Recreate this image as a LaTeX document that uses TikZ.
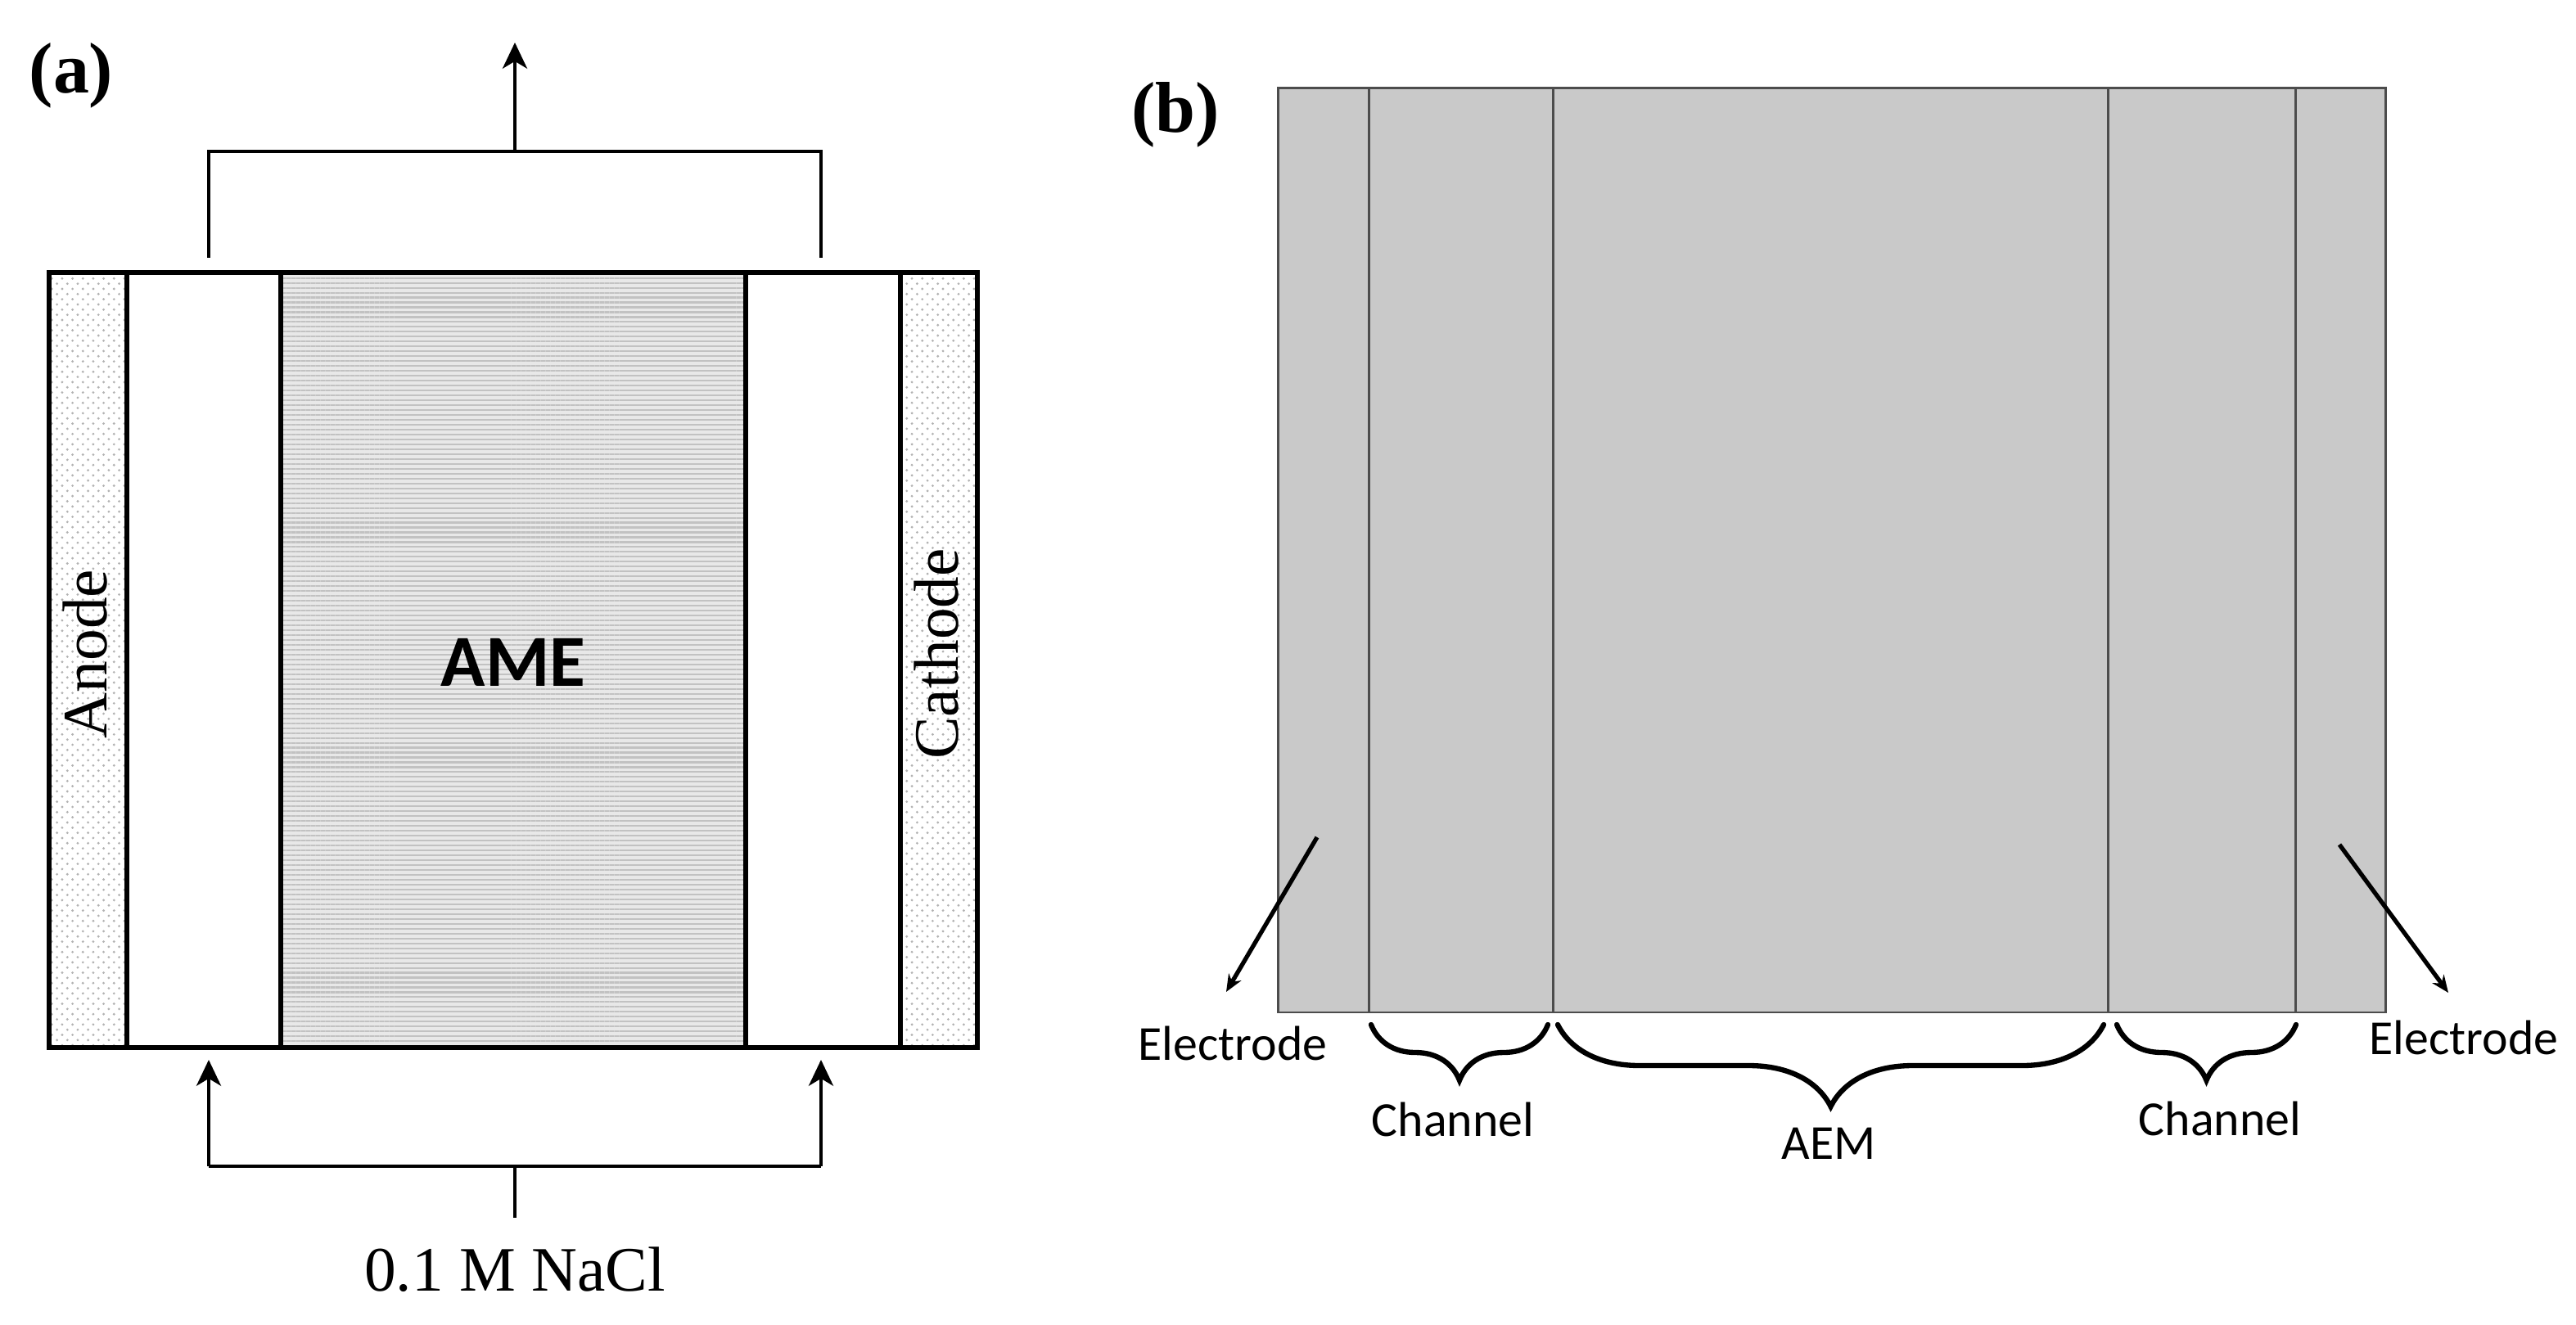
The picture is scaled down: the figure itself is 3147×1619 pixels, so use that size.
\documentclass[tikz,border=0pt]{standalone}
\usepackage{fontspec}
\setmainfont{Liberation Serif}
\newfontfamily\calibri{Carlito}
\usetikzlibrary{arrows.meta, patterns.meta, decorations.pathreplacing}

\begin{document}
\begin{tikzpicture}[
  x=0.01cm, y=-0.01cm,
  wall/.style={draw, line width=1.45pt},
  pipe/.style={line width=1.4pt},
  flow/.style={-{Stealth[length=9pt, width=8.5pt, inset=2.5pt]}, line width=1.3pt},
  serif/.style={font=\fontsize{22}{24}\selectfont},
  panel/.style={font=\fontsize{25}{28}\selectfont\bfseries},
  cell/.style={draw=black!70, line width=0.85pt},
  tag/.style={font=\calibri\fontsize{17}{19}\selectfont},
  pointer/.style={-{Stealth[length=6pt, width=5pt]}, line width=1.5pt},
  curly/.style={decorate, decoration={brace, mirror, amplitude=#1}, line width=1.8pt, line cap=round}
]
  \useasboundingbox (0,0) rectangle (3147,1619);

  % Panel (a): cell
  \coordinate (nw) at (60,333);
  \coordinate (se) at (1194,1280);
  \foreach \xa/\xb in {60/155, 1100/1194} {
    \path[pattern={Dots[distance=3.6pt, radius=0.45pt]}, pattern color=black!30] (\xa,333) rectangle (\xb,1280);
    \path[pattern={Dots[distance=3.6pt, radius=0.45pt, xshift=1.8pt, yshift=1.8pt]}, pattern color=black!30] (\xa,333) rectangle (\xb,1280);
  }
  \fill[black!9] (343,333) rectangle (911,1280);
  \path[pattern={Lines[angle=0, distance=1.7pt, line width=0.6pt]}, pattern color=black!24] (343,333) rectangle (911,1280);
  \foreach \xd in {155,343,911,1100}
    \draw[wall] (\xd,333) -- (\xd,1280);
  \draw[wall] (nw) rectangle (se);

  \node[serif, rotate=90] (anode) at (104,799) {Anode};
  \node[serif, rotate=90] (cathode) at (1144,799) {Cathode};
  \node[font=\calibri\bfseries\fontsize{25.5}{28}\selectfont] (ame) at (627,809) {AME};

  % Outlet
  \coordinate (outL) at (255,315);
  \coordinate (outR) at (1003,315);
  \coordinate (topL) at (255,185);
  \coordinate (topR) at (1003,185);
  \coordinate (topM) at (629,185);
  \coordinate (exit) at (629,52);
  \draw[pipe] (outL) -- (topL) -- (topR) -- (outR);
  \draw[flow] (topM) -- (exit);

  % Inlet
  \coordinate (inL) at (255,1295);
  \coordinate (inR) at (1003,1295);
  \coordinate (botL) at (255,1425);
  \coordinate (botR) at (1003,1425);
  \coordinate (botM) at (629,1425);
  \coordinate (feed) at (629,1488);
  \draw[pipe] (botL) -- (botR);
  \draw[flow] (botL) -- (inL);
  \draw[flow] (botR) -- (inR);
  \draw[pipe] (botM) -- (feed);
  \node[serif] (nacl) at (629,1551) {0.1 M NaCl};

  \node[panel] (pa) at (87,92) {(a)};

  % Panel (b): model domain
  \fill[black!21] (1561,108) rectangle (2914,1237);
  \foreach \xd in {1672,1897,2575,2804}
    \draw[cell] (\xd,108) -- (\xd,1237);
  \draw[cell] (1561,108) rectangle (2914,1237);
  \node[panel] (pb) at (1436,140) {(b)};

  % Electrode pointers
  \coordinate (eL) at (1609,1023);
  \coordinate (eLtip) at (1498,1212);
  \coordinate (eR) at (2858,1032);
  \coordinate (eRtip) at (2991,1213);
  \draw[pointer] (eL) -- (eLtip);
  \draw[pointer] (eR) -- (eRtip);
  \node[tag] (elecL) at (1506,1275) {Electrode};
  \node[tag] (elecR) at (3010,1268) {Electrode};

  % Braces
  \coordinate (chLa) at (1675,1252);
  \coordinate (chLb) at (1891,1252);
  \coordinate (aemA) at (1903,1252);
  \coordinate (aemB) at (2570,1252);
  \coordinate (chRa) at (2586,1252);
  \coordinate (chRb) at (2805,1252);
  \draw[curly=0.68cm] (chLa) -- (chLb);
  \draw[curly=1cm] (aemA) -- (aemB);
  \draw[curly=0.68cm] (chRa) -- (chRb);
  \node[tag] (chL) at (1775,1368) {Channel};
  \node[tag] (aem) at (2234,1397) {AEM};
  \node[tag] (chR) at (2712,1367) {Channel};
\end{tikzpicture}
\end{document}
